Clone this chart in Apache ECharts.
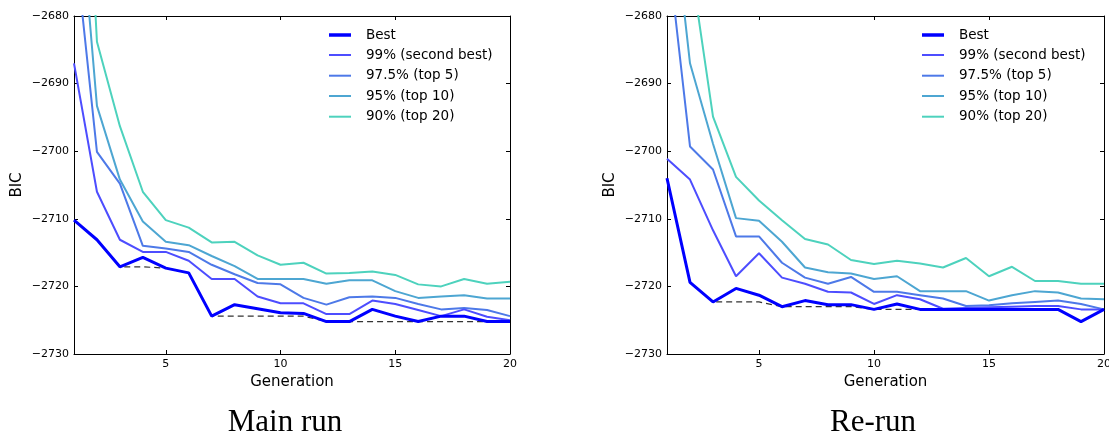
<!DOCTYPE html>
<html>
<head>
<meta charset="utf-8">
<script src="https://cdn.jsdelivr.net/npm/echarts@6/dist/echarts.min.js"></script>
<style>html,body{margin:0;padding:0;background:#fff}#c{width:1109px;height:433px}</style>
</head>
<body>
<div id="c"></div>
<script>
// ---- data ----
var generations = [1,2,3,4,5,6,7,8,9,10,11,12,13,14,15,16,17,18,19,20];
var xTicks = [5, 10, 15, 20];
var seriesNames = ['Best', '99% (second best)', '97.5% (top 5)', '95% (top 10)', '90% (top 20)'];
var panelTitles = ['Main run', 'Re-run'];

// Main run
var mainBest   = [-2710.2,-2713.1,-2717.1,-2715.7,-2717.3,-2718.0,-2724.4,-2722.7,-2723.3,-2723.9,-2724.0,-2725.2,-2725.2,-2723.4,-2724.4,-2725.2,-2724.4,-2724.4,-2725.2,-2725.2];
var mainBestSoFar = [-2710.2,-2713.1,-2717.1,-2717.1,-2717.3,-2718.0,-2724.4,-2724.4,-2724.4,-2724.4,-2724.4,-2725.2,-2725.2,-2725.2,-2725.2,-2725.2,-2725.2,-2725.2,-2725.2,-2725.2];
var main99  = [-2687.0,-2706.0,-2713.1,-2714.9,-2714.9,-2716.2,-2718.9,-2718.9,-2721.5,-2722.5,-2722.5,-2724.1,-2724.1,-2722.1,-2722.6,-2723.5,-2724.4,-2723.4,-2724.5,-2725.0];
var main975 = [-2668.0,-2700.1,-2704.8,-2714.0,-2714.4,-2714.9,-2716.8,-2718.2,-2719.5,-2719.7,-2721.7,-2722.7,-2721.6,-2721.5,-2721.7,-2722.6,-2723.4,-2723.2,-2723.5,-2724.4];
var main95  = [-2653.0,-2693.3,-2704.2,-2710.4,-2713.4,-2713.9,-2715.5,-2717.0,-2718.9,-2718.9,-2718.9,-2719.6,-2719.1,-2719.1,-2720.7,-2721.7,-2721.5,-2721.3,-2721.8,-2721.8];
var main90  = [-2620.0,-2683.8,-2696.3,-2706.0,-2710.2,-2711.3,-2713.5,-2713.4,-2715.4,-2716.8,-2716.5,-2718.1,-2718.0,-2717.8,-2718.3,-2719.7,-2720.0,-2718.9,-2719.6,-2719.3];

// Re-run
var reBest   = [-2704.0,-2719.4,-2722.3,-2720.3,-2721.3,-2723.0,-2722.1,-2722.7,-2722.7,-2723.4,-2722.6,-2723.4,-2723.4,-2723.4,-2723.4,-2723.4,-2723.4,-2723.4,-2725.2,-2723.4];
var reBestSoFar = [-2704.0,-2719.4,-2722.3,-2722.3,-2722.3,-2723.0,-2723.0,-2723.0,-2723.0,-2723.4,-2723.4,-2723.4,-2723.4,-2723.4,-2723.4,-2723.4,-2723.4,-2723.4,-2725.2,-2723.4];
var re99  = [-2701.1,-2704.2,-2711.7,-2718.5,-2715.1,-2718.7,-2719.6,-2720.8,-2720.9,-2722.6,-2721.3,-2721.9,-2723.3,-2723.2,-2723.1,-2723.0,-2722.9,-2722.9,-2723.4,-2723.4];
var re975 = [-2669.1,-2699.3,-2702.7,-2712.6,-2712.6,-2716.5,-2718.7,-2719.6,-2718.6,-2720.8,-2720.8,-2721.3,-2721.8,-2722.9,-2722.8,-2722.5,-2722.3,-2722.1,-2722.6,-2723.4];
var re95  = [-2656.6,-2687.0,-2698.9,-2709.9,-2710.3,-2713.4,-2717.2,-2717.9,-2718.1,-2718.9,-2718.5,-2720.7,-2720.7,-2720.7,-2722.1,-2721.3,-2720.7,-2720.9,-2721.8,-2721.9];
var re90  = [-2640.0,-2671.6,-2694.9,-2703.8,-2707.3,-2710.2,-2713.0,-2713.8,-2716.1,-2716.7,-2716.2,-2716.6,-2717.2,-2715.8,-2718.5,-2717.1,-2719.2,-2719.2,-2719.6,-2719.6];

// ---- styling ----
var colors = ['#0000ff', '#4d4dff', '#4d79e8', '#4da6d2', '#4dd2bd'];
var widths = [3, 2, 2, 2, 2];
var font = 'DejaVu Sans';

function pairs(v){ return generations.map(function(g,i){ return [g, v[i]]; }); }
function fmtMinus(v){ return String(v).replace('-', '\u2212'); }

var grids = [
  {left: 74, top: 16, width: 436, height: 338, containLabel:false, outerBoundsMode:'none'},
  {left: 667, top: 16, width: 437, height: 338, containLabel:false, outerBoundsMode:'none'}
];

var xAxes = [], yAxes = [];
[0,1].forEach(function(gi){
  var common = {type:'value', gridIndex: gi, min: 1, max: 20, splitLine:{show:false},
    axisLine:{show:true, onZero:false, lineStyle:{color:'#000', width:1}}};
  xAxes.push(Object.assign({}, common, {position:'bottom',
    name: 'Generation', nameLocation:'middle', nameGap: 21,
    nameTextStyle:{fontFamily: font, fontSize: 15, color:'#000'},
    axisTick:{show:true, inside:true, length:4, customValues: xTicks, lineStyle:{color:'#000'}},
    axisLabel:{show:true, margin:5, customValues: xTicks, hideOverlap:false, fontFamily: font, fontSize: 11, color:'#000'}}));
  xAxes.push(Object.assign({}, common, {position:'top',
    axisTick:{show:true, inside:true, length:4, customValues: xTicks, lineStyle:{color:'#000'}},
    axisLabel:{show:false}}));
  var ycommon = {type:'value', gridIndex: gi, min: -2730, max: -2680, interval: 10, splitLine:{show:false},
    axisLine:{show:true, onZero:false, lineStyle:{color:'#000', width:1}}};
  yAxes.push(Object.assign({}, ycommon, {position:'left',
    name:'BIC', nameLocation:'middle', nameGap: 49,
    nameTextStyle:{fontFamily: font, fontSize: 15, color:'#000'},
    axisTick:{show:true, inside:true, length:4, lineStyle:{color:'#000'}},
    axisLabel:{show:true, margin:5, formatter: fmtMinus, fontFamily: font, fontSize: 11, color:'#000'}}));
  yAxes.push(Object.assign({}, ycommon, {position:'right',
    axisTick:{show:true, inside:true, length:4, lineStyle:{color:'#000'}},
    axisLabel:{show:false}}));
});

var series = [];
function addPanel(gi, best, bestSoFar, s99, s975, s95, s90){
  var vals = [best, s99, s975, s95, s90];
  [4,3,2,1].forEach(function(k){
    series.push({type:'line', name: seriesNames[k], xAxisIndex: gi*2, yAxisIndex: gi*2,
      data: pairs(vals[k]), symbol:'none', animation:false, clip:true,
      lineStyle:{color: colors[k], width: widths[k]}, itemStyle:{color: colors[k]}});
  });
  series.push({type:'line', name:'best so far', xAxisIndex: gi*2, yAxisIndex: gi*2,
    data: pairs(bestSoFar), symbol:'none', animation:false, clip:true,
    lineStyle:{color:'#333', width:1.2, type:[6,4]}, itemStyle:{color:'#333'}});
  series.push({type:'line', name: seriesNames[0], xAxisIndex: gi*2, yAxisIndex: gi*2,
    data: pairs(best), symbol:'none', animation:false, clip:true,
    lineStyle:{color: colors[0], width: widths[0]}, itemStyle:{color: colors[0]}});
}
addPanel(0, mainBest, mainBestSoFar, main99, main975, main95, main90);
addPanel(1, reBest, reBestSoFar, re99, re975, re95, re90);

var legendRows = [35, 55, 75.7, 96, 116.7];
var legendLeft = [329, 922];
var legends = [];
[0,1].forEach(function(gi){
  seriesNames.forEach(function(n, k){
    legends.push({data:[{name:n, itemStyle:{color: colors[k]}}], left: legendLeft[gi], top: legendRows[k] - 8,
      padding: 0, icon:'rect', itemWidth: 22, itemHeight: widths[k] + (k===0?0.5:0),
      selectedMode:false, inactiveColor: colors[k],
      textStyle:{fontFamily: font, fontSize: 13.5, color:'#000', lineHeight:16, padding:[0,0,0,10]}});
  });
});

var chart = echarts.init(document.getElementById('c'), null, {renderer:'canvas'});
chart.setOption({
  animation:false,
  backgroundColor:'#fff',
  grid: grids,
  xAxis: xAxes,
  yAxis: yAxes,
  legend: legends,
  series: series,
  graphic: [
    {type:'text', x: 285, y: 423, style:{text: panelTitles[0], font:'31px "Liberation Serif"', fill:'#000', align:'center', verticalAlign:'middle'}},
    {type:'text', x: 873, y: 423, style:{text: panelTitles[1], font:'31px "Liberation Serif"', fill:'#000', align:'center', verticalAlign:'middle'}}
  ]
});
</script>
</body>
</html>
